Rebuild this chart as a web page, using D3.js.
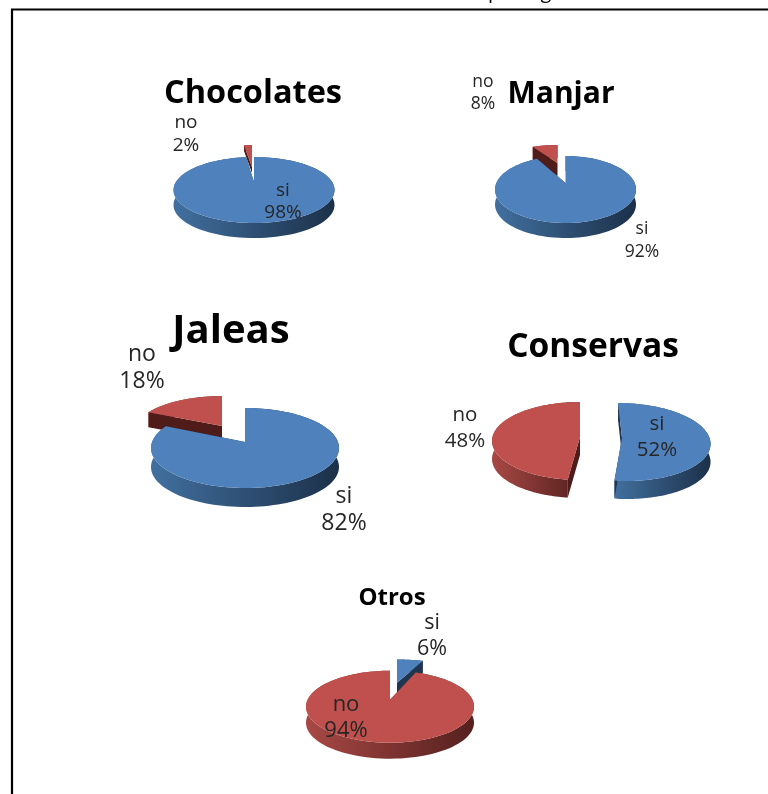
<!DOCTYPE html>
<html>
<head>
<meta charset="utf-8">
<script src="https://cdnjs.cloudflare.com/ajax/libs/d3/7.8.5/d3.min.js"></script>
<style>
  html, body { margin: 0; padding: 0; background: #fff; overflow: hidden; }
  text { font-family: "Open Sans", "Noto Sans", sans-serif; }
  svg { filter: blur(0.45px); }
</style>
</head>
<body>
<div id="viz"></div>
<script>
var width = 768
var height = 794

// data
var titles = ["Chocolates", "Manjar", "Jaleas", "Conservas", "Otros"]
var categories = ["si", "no"]
var siValues = [98, 92, 82, 52, 6]
var noValues = [2, 8, 18, 48, 94]

var topColors = ["#4f81bd", "#c0504d"]
var sideColors = [["#41709f", "#1c3049"], ["#a84845", "#54201e"]]
var wallColors = ["#1f3550", "#4f1c1a"]

// where each pie sits. cx/cy/rx/ry = top ellipse, t = how far the apex sits above its centre
// shift = exploded offset of each slice (si, no)
var layout = [
  { cx: 254, cy: 190, rx: 80.5, ry: 33, t: 8, depth: 15,
    shift: [{ dx: 0, dy: 0, sy: 1 }, { dx: -2, dy: -15, sy: 0.88, depth: 6 }],
    title: { x: 253, y: 103, size: 32.5 },
    labels: [{ x: 283, y: 196, y2: 218, size: 19 }, { x: 186, y: 128, y2: 151, size: 19 }] },
  { cx: 565.5, cy: 189.5, rx: 70.5, ry: 33.5, t: 6.5, depth: 15,
    shift: [{ dx: 0, dy: 0, sy: 1 }, { dx: -8, dy: -20, sy: 0.67, sx: 0.87, depth: 13 }],
    title: { x: 561, y: 103, size: 30 },
    labels: [{ x: 642, y: 234, y2: 257, size: 17.5 }, { x: 483, y: 87, y2: 109, size: 17.5 }] },
  { cx: 245, cy: 448, rx: 94, ry: 40, t: 6, depth: 19,
    shift: [{ dx: 0, dy: 0, sy: 1 }, { dx: -23, dy: -16, sy: 0.88, sx: 0.93, depth: 15 }],
    title: { x: 231, y: 343, size: 40 },
    labels: [{ x: 344, y: 503, y2: 530, size: 23 }, { x: 142, y: 361, y2: 388, size: 23 }] },
  { cx: 622, cy: 442, rx: 88, ry: 39, t: 4, depth: 18,
    shift: [{ dx: 0, dy: 0, sy: 1, skew: 0.11 }, { dx: -42, dy: -1, sy: 1 }],
    title: { x: 593, y: 357, size: 33.5 },
    labels: [{ x: 657, y: 430, y2: 456, size: 20.5 }, { x: 465, y: 421, y2: 447, size: 20.5 }] },
  { cx: 390, cy: 706.7, rx: 84, ry: 36, t: 7, depth: 16,
    shift: [{ dx: 7, dy: -17, sy: 0.8, depth: 12 }, { dx: 0, dy: 0, sy: 1 }],
    title: { x: 392, y: 605, size: 24 },
    labels: [{ x: 432, y: 629, y2: 655, size: 21.5 }, { x: 346, y: 711, y2: 737, size: 22 }] }
]

var svg = d3.select("#viz")
  .append("svg")
  .attr("width", width)
  .attr("height", height)
  .style("display", "block")

var defs = svg.append("defs")

// side gradients, left to right
categories.forEach(function (c, i) {
  var g = defs.append("linearGradient").attr("id", "side" + i)
  g.append("stop").attr("offset", "0%").attr("stop-color", sideColors[i][0])
  g.append("stop").attr("offset", "100%").attr("stop-color", sideColors[i][1])
})

// frame cut off by the page
svg.append("path")
  .attr("d", "M12,794V9.5H768")
  .attr("fill", "none")
  .attr("stroke", "#000")
  .attr("stroke-width", 2.2)

// bottoms of the heading above the frame
svg.selectAll("text.cut")
  .data(["p", "g"])
  .enter().append("text")
  .attr("class", "cut")
  .attr("x", function (d, i) { return i ? 546 : 494 })
  .attr("y", -2)
  .attr("text-anchor", "middle")
  .attr("font-size", 20)
  .text(function (d) { return d })

var pie = d3.pie().sort(null)
var line = d3.line()

titles.forEach(function (title, n) {
  var L = layout[n]
  var slices = pie([siValues[n], noValues[n]])
  slices.forEach(function (s, i) { s.cat = i })

  // perspective: the apex is not the ellipse centre
  var k = L.t / L.ry
  var A = (L.ry * L.ry - L.t * L.t) / L.ry
  var B = L.rx * Math.sqrt(1 - k * k)

  function rim(a, sh) {
    var u = Math.sin(a), v = Math.cos(a), w = 1 + k * v
    var Y = -A * v / w * sh.sy
    return [L.cx + sh.dx + B * u / w * (sh.sx || 1) + (sh.skew || 0) * Y, L.cy - L.t + sh.dy + Y]
  }

  var g = svg.append("g").attr("class", "pie")

  // small slice first, big one paints over it
  slices.slice().sort(function (a, b) { return a.value - b.value }).forEach(function (s) {
    var sh = L.shift[s.cat]
    var depth = sh.depth || L.depth
    var tip = [L.cx + sh.dx, L.cy - L.t + sh.dy]
    var down = function (p) { return [p[0], p[1] + depth] }

    var arc = d3.range(0, 121).map(function (j) {
      return rim(s.startAngle + (s.endAngle - s.startAngle) * j / 120, sh)
    })

    // outer side
    g.append("path")
      .attr("d", line(arc.concat(arc.map(down).reverse())) + "Z")
      .attr("fill", "url(#side" + s.cat + ")")

    // cut walls
    ;[arc[0], arc[arc.length - 1]].forEach(function (p) {
      g.append("path")
        .attr("d", line([tip, p, down(p), down(tip)]) + "Z")
        .attr("fill", wallColors[s.cat])
    })

    // top face
    g.append("path")
      .attr("d", line([tip].concat(arc)) + "Z")
      .attr("fill", topColors[s.cat])
  })

  // title
  g.append("text")
    .attr("x", L.title.x)
    .attr("y", L.title.y)
    .attr("text-anchor", "middle")
    .attr("font-size", L.title.size)
    .attr("font-weight", 700)
    .attr("fill", "#000")
    .text(title)

  // slice labels, two lines
  slices.forEach(function (s, i) {
    var lab = L.labels[i]
    var t = g.append("text")
      .attr("text-anchor", "middle")
      .attr("font-size", lab.size)
      .attr("fill", "#262626")
    t.append("tspan").attr("x", lab.x).attr("y", lab.y).text(categories[i])
    t.append("tspan").attr("x", lab.x).attr("y", lab.y2).text(s.value + "%")
  })
})
</script>
</body>
</html>
